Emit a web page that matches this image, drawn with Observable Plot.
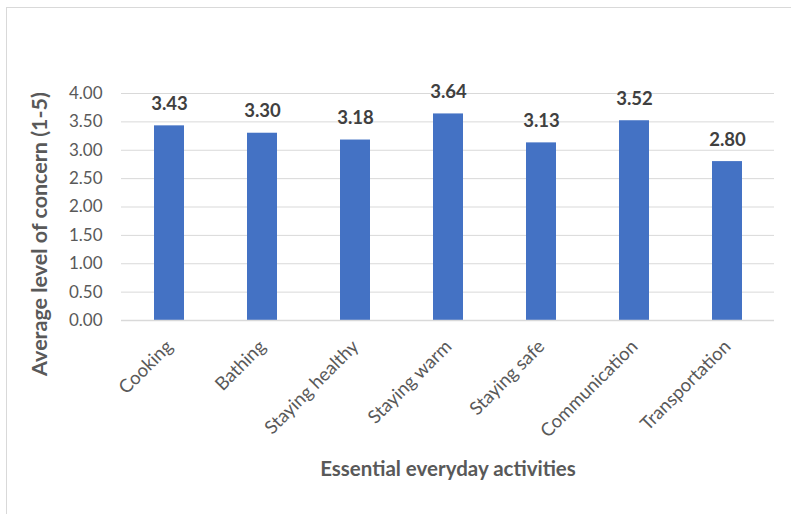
<!DOCTYPE html>
<html>
<head>
<meta charset="utf-8">
<script src="https://cdn.jsdelivr.net/npm/d3@7"></script>
<script src="https://cdn.jsdelivr.net/npm/@observablehq/plot@0.6"></script>
<style>
  html, body { margin: 0; padding: 0; background: #fff; }
  #wrap { position: relative; width: 791px; height: 514px; overflow: hidden; }
  #frame { position: absolute; left: 6px; top: 7px; width: 900px; height: 700px;
           border-left: 1px solid #d9d9d9; border-top: 1px solid #d9d9d9; }
  #chart { position: absolute; left: 0; top: 0; }
</style>
</head>
<body>
<div id="wrap"><div id="frame"></div><div id="chart"></div></div>
<script>
const categories = ["Cooking", "Bathing", "Staying healthy", "Staying warm", "Staying safe", "Communication", "Transportation"];
const values = [3.43, 3.30, 3.18, 3.64, 3.13, 3.52, 2.80];
const yTicks = [0, 0.5, 1, 1.5, 2, 2.5, 3, 3.5, 4];
const xTitle = "Essential everyday activities";
const yTitle = "Average level of concern (1-5)";

const data = categories.map((c, i) => ({category: c, value: values[i]}));

const chart = Plot.plot({
  width: 791,
  height: 514,
  marginLeft: 121,
  marginRight: 17,
  marginTop: 93,
  marginBottom: 194,
  style: {background: "transparent", fontFamily: "Lato, sans-serif"},
  x: {domain: categories, paddingInner: 0.68, paddingOuter: 0.34, label: null, tickSize: 0},
  y: {domain: [0, 4], ticks: yTicks, label: null, tickSize: 0},
  marks: [
    Plot.gridY(yTicks, {stroke: "#d9d9d9", strokeOpacity: 1, strokeWidth: 1}),
    Plot.barY(data, {x: "category", y: "value", fill: "#4472c4"}),
    Plot.ruleY([0], {stroke: "#d9d9d9", strokeWidth: 1.5}),
    Plot.axisY({ticks: yTicks, tickFormat: d => d.toFixed(2), tickSize: 0, tickPadding: 19,
      fontSize: 17, fill: "#595959", label: null}),
    Plot.axisX({tickSize: 0, tickRotate: -45, tickPadding: 23, fontSize: 18.5, fill: "#595959", label: null}),
    Plot.text(data, {x: "category", y: "value", text: d => d.value.toFixed(2), lineAnchor: "middle",
      dy: -22, fontSize: 18.5, fontWeight: "bold", fill: "#404040"}),
    Plot.text([xTitle], {frameAnchor: "bottom", lineAnchor: "middle", dy: 149, text: d => d, fontSize: 20.5, fontWeight: "bold", fill: "#595959"}),
    Plot.text([yTitle], {frameAnchor: "left", textAnchor: "middle", lineAnchor: "middle", rotate: -90, dx: -81, dy: 27, text: d => d, fontSize: 21.5, fontWeight: "bold", fill: "#595959"})
  ]
});
document.getElementById("chart").appendChild(chart);
</script>
</body>
</html>
